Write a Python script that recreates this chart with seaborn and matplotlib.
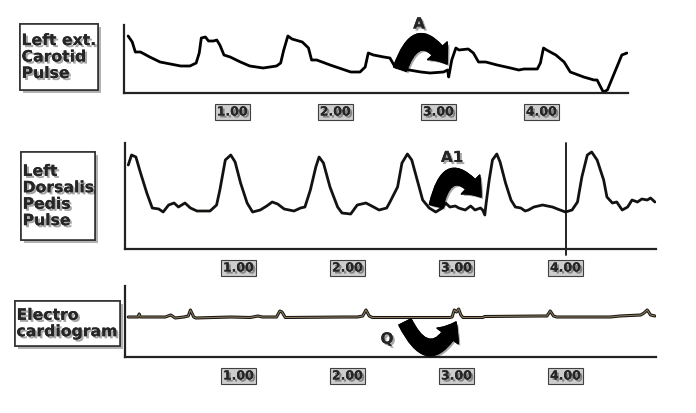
import matplotlib.pyplot as plt
import matplotlib.patheffects as pe
from matplotlib.patches import FancyArrowPatch, Rectangle
import seaborn as sns

# carotid pulse trace (time in s, amplitude in arbitrary units)
carotid_t = [-0.01, 0.03, 0.06, 0.11, 0.20, 0.30, 0.40, 0.50, 0.59, 0.65,
             0.68, 0.70, 0.74, 0.77, 0.82, 0.85, 0.88, 0.92, 0.98, 1.08,
             1.17, 1.30, 1.43, 1.47, 1.50, 1.54, 1.58, 1.68, 1.74, 1.77,
             1.82, 1.95, 2.15, 2.24, 2.29, 2.32, 2.37, 2.47, 2.53, 2.58,
             2.66, 2.83, 2.92, 3.05, 3.09, 3.10, 3.13, 3.17, 3.20, 3.29,
             3.34, 3.39, 3.46, 3.57, 3.70, 3.78, 3.83, 3.96, 3.99, 4.02,
             4.05, 4.14, 4.22, 4.28, 4.41, 4.51, 4.54, 4.60, 4.64, 4.72,
             4.78, 4.83]
carotid_v = [57, 51, 41, 41, 36, 31, 29, 27, 27, 30,
             40, 55, 56, 52, 52, 53, 48, 38, 36, 31,
             27, 25, 27, 30, 43, 57, 54, 51, 45, 33,
             33, 28, 21, 21, 26, 40, 38, 36, 35, 26,
             24, 21, 20, 21, 23, 16, 33, 45, 43, 44,
             40, 31, 31, 28, 25, 23, 24, 24, 30, 45,
             43, 38, 31, 21, 16, 13, 13, 1, 3, 23,
             38, 40]

# dorsalis pedis pulse trace
pedis_t = [-0.01, 0.02, 0.06, 0.10, 0.16, 0.21, 0.27, 0.31, 0.36, 0.41,
           0.45, 0.51, 0.56, 0.62, 0.74, 0.80, 0.83, 0.88, 0.93, 0.97,
           1.02, 1.08, 1.13, 1.20, 1.26, 1.31, 1.36, 1.42, 1.51, 1.57,
           1.61, 1.66, 1.71, 1.74, 1.78, 1.84, 1.91, 1.95, 2.03, 2.09,
           2.17, 2.24, 2.29, 2.36, 2.39, 2.46, 2.50, 2.55, 2.59, 2.64,
           2.69, 2.75, 2.81, 2.87, 2.90, 2.94, 2.99, 3.02, 3.08, 3.13,
           3.17, 3.22, 3.24, 3.26, 3.27, 3.30, 3.33, 3.37, 3.40, 3.45,
           3.50, 3.54, 3.59, 3.63, 3.66, 3.71, 3.79, 3.88, 3.95, 4.00,
           4.06, 4.11, 4.15, 4.20, 4.24, 4.29, 4.35, 4.38, 4.43, 4.47,
           4.52, 4.57, 4.61, 4.66, 4.70, 4.75, 4.78, 4.82]
pedis_v = [84, 94, 92, 77, 56, 41, 40, 37, 44, 46,
           42, 46, 41, 38, 38, 44, 59, 89, 94, 87,
           66, 46, 37, 39, 43, 47, 45, 40, 38, 41,
           42, 59, 82, 92, 86, 62, 42, 36, 35, 44,
           46, 42, 39, 41, 47, 62, 86, 95, 89, 69,
           49, 41, 37, 41, 46, 42, 43, 41, 39, 43,
           39, 41, 39, 34, 44, 69, 89, 95, 87, 66,
           49, 42, 41, 38, 39, 42, 44, 42, 39, 37,
           39, 47, 72, 94, 97, 89, 69, 52, 46, 47,
           39, 42, 49, 47, 50, 49, 51, 47]

# electrocardiogram trace
ecg_t = [-0.01, 0.08, 0.09, 0.10, 0.33, 0.38, 0.42, 0.50, 0.54, 0.56,
         0.59, 0.61, 0.93, 1.11, 1.18, 1.22, 1.35, 1.38, 1.40, 1.43,
         1.98, 2.09, 2.14, 2.17, 2.20, 2.23, 2.94, 2.96, 2.98, 3.00,
         3.02, 3.04, 3.06, 3.24, 3.26, 3.77, 3.83, 3.86, 3.89, 3.92,
         4.41, 4.50, 4.69, 4.72, 4.75, 4.78, 4.82]
ecg_v = [40, 40, 43, 40, 40, 42, 39, 40, 41, 47,
         40, 39, 40, 39.5, 41, 40, 40, 46, 45, 39.5,
         40, 40, 41, 47, 41, 39.5, 39.5, 40, 47, 45,
         48, 42, 39.5, 39.5, 40.5, 41, 41, 46, 41, 40,
         40, 41, 42, 44, 47, 42, 41]

tick_pos = [1, 2, 3, 4]
tick_labels = ['1.00', '2.00', '3.00', '4.00']
panel_labels = ['Left ext.\nCarotid\nPulse', 'Left\nDorsalis\nPedis\nPulse', 'Electro\ncardiogram']
marker_time = 4.0

sns.set_style('white')
plt.rcParams['font.family'] = ['DejaVu Sans']

W, H = 696, 413
fig = plt.figure(figsize=(W / 100, H / 100), dpi=100)

def fx(x):
    return x / W

def fy(y):
    return 1 - y / H

shadow = [pe.withSimplePatchShadow(offset=(1.5, -1.5), shadow_rgbFace='black', alpha=0.35), pe.Normal()]

ax1 = fig.add_axes([fx(124), fy(93), fx(628 - 124), (93 - 25) / H])
ax2 = fig.add_axes([fx(125), fy(249), fx(656 - 125), (249 - 143) / H])
ax3 = fig.add_axes([fx(125), fy(357), fx(656 - 125), (357 - 286) / H])

sns.lineplot(x=carotid_t, y=carotid_v, ax=ax1, color='black', lw=2.0, estimator=None)
sns.lineplot(x=pedis_t, y=pedis_v, ax=ax2, color='#141210', lw=2.0, estimator=None)
sns.lineplot(x=ecg_t, y=ecg_v, ax=ax3, color='#111111', lw=2.2, estimator=None)
sns.lineplot(x=ecg_t, y=ecg_v, ax=ax3, color='#8c7b5a', lw=0.8, estimator=None)

ax2.plot([marker_time, marker_time], [-6, 106], color='#111111', lw=1.3, clip_on=False)

ax1.set_xlim(-0.05, 4.84)
ax1.set_ylim(0, 68)
ax2.set_xlim(-0.04, 4.83)
ax2.set_ylim(0, 106)
ax3.set_xlim(-0.04, 4.83)
ax3.set_ylim(0, 71)

for ax in [ax1, ax2, ax3]:
    sns.despine(ax=ax)
    ax.spines['left'].set_linewidth(1.6)
    ax.spines['bottom'].set_linewidth(1.6)
    ax.spines['left'].set_color('#222222')
    ax.spines['bottom'].set_color('#222222')
    ax.set_yticks([])
    ax.set_xticks(tick_pos)
    ax.set_xticklabels(tick_labels, fontsize=9, fontweight='bold')
    ax.tick_params(axis='x', length=3, width=1.2, pad=6, color='#222222')
    for lbl in ax.get_xticklabels():
        lbl.set_bbox(dict(boxstyle='square,pad=0.15', fc='#cdcdcd', ec='#404040', lw=0.8))
        lbl.set_path_effects(shadow)
    ax.set_xlabel('')
    ax.set_ylabel('')

# label boxes on the left
boxes = [(20, 24, 98, 90), (21, 152, 95, 240), (15, 301, 120, 346)]
for (x0, y0, x1, y1), txt in zip(boxes, panel_labels):
    r = Rectangle((fx(x0), fy(y1)), fx(x1 - x0), (y1 - y0) / H, transform=fig.transFigure,
                  fc='white', ec='#333333', lw=1.2)
    r.set_path_effects([pe.withSimplePatchShadow(offset=(2, -2), shadow_rgbFace='black', alpha=0.3), pe.Normal()])
    fig.patches.append(r)
    fig.text(fx(x0 + 1.5), fy((y0 + y1) / 2), txt, ha='left', va='center', fontsize=11.3,
             fontweight='bold', linespacing=1.12, path_effects=shadow)

# curved arrows
def curved_arrow(p0, p1, rad):
    a = FancyArrowPatch(posA=(fx(p0[0]), fy(p0[1])), posB=(fx(p1[0]), fy(p1[1])),
                        transform=fig.transFigure, connectionstyle=f'arc3,rad={rad}',
                        arrowstyle='simple,head_length=0.9,head_width=1.45,tail_width=0.75',
                        mutation_scale=13, color='black', shrinkA=0, shrinkB=0)
    a.set_path_effects(shadow)
    fig.patches.append(a)

curved_arrow((400, 69), (447, 64), -1.05)
curved_arrow((436, 206), (481, 197), -1.1)
curved_arrow((405, 322), (456, 322), 1.0)

fig.text(fx(419), fy(24), 'A', ha='center', va='center', fontsize=11, fontweight='bold', path_effects=shadow)
fig.text(fx(452), fy(157.5), 'A1', ha='center', va='center', fontsize=11, fontweight='bold', path_effects=shadow)
fig.text(fx(387), fy(339), 'Q', ha='center', va='center', fontsize=11, fontweight='bold', path_effects=shadow)

plt.savefig('out.png', dpi=100)
